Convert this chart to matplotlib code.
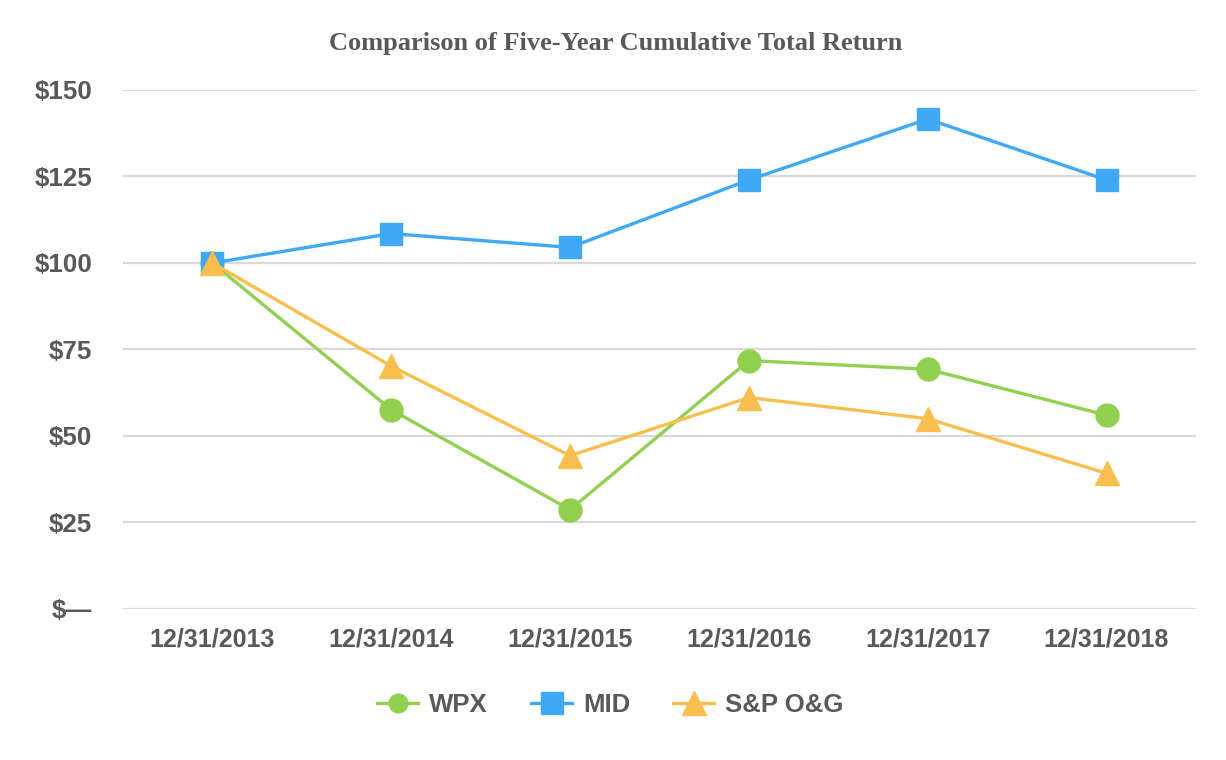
import matplotlib
matplotlib.use("Agg")
import matplotlib.pyplot as plt
from matplotlib.ticker import FixedLocator, FixedFormatter

categories = ["12/31/2013", "12/31/2014", "12/31/2015", "12/31/2016", "12/31/2017", "12/31/2018"]
wpx = [100, 57.6, 28.7, 71.8, 69.3, 56.0]
mid = [100, 108.5, 104.5, 124.0, 141.6, 124.0]
spog = [100, 70.2, 44.3, 61.1, 55.0, 39.2]
ytick_vals = [0, 25, 50, 75, 100, 125, 150]
ytick_labels = ["$\u2014", "$25", "$50", "$75", "$100", "$125", "$150"]

GREEN = "#92D050"
BLUE = "#3FA9F5"
ORANGE = "#F8BF4F"
TEXT = "#595959"

fig = plt.figure(figsize=(12.26, 7.6), dpi=100)
ax = fig.add_axes([0.1003, 0.1987, 0.8752, 0.6829])

x = list(range(len(categories)))
ax.plot(x, wpx, color=GREEN, lw=2.4, marker="o", ms=16.5, label="WPX", zorder=3)
ax.plot(x, mid, color=BLUE, lw=2.4, marker="s", ms=16, label="MID", zorder=3)
ax.plot(x, spog, color=ORANGE, lw=2.4, marker="^", ms=17.5, label="S&P O&G", zorder=4)

ax.set_xlim(-0.5, len(categories) - 0.5)
ax.set_ylim(0, 150)
ax.yaxis.set_major_locator(FixedLocator(ytick_vals))
ax.yaxis.set_major_formatter(FixedFormatter(ytick_labels))
ax.set_xticks(x)
ax.set_xticklabels(categories)
ax.grid(axis="y", color="#D9D9D9", lw=1.6)
ax.set_axisbelow(True)
for s in ax.spines.values():
    s.set_visible(False)
ax.tick_params(axis="both", length=0, colors=TEXT)
ax.tick_params(axis="y", pad=22)
ax.tick_params(axis="x", pad=13)
for lbl in ax.get_yticklabels():
    lbl.set_fontfamily("Liberation Sans")
    lbl.set_fontweight("bold")
    lbl.set_fontsize(18.7)
    lbl.set_color(TEXT)
for lbl in ax.get_xticklabels():
    lbl.set_fontfamily("Liberation Sans")
    lbl.set_fontweight("bold")
    lbl.set_fontsize(18)
    lbl.set_color(TEXT)

fig.text(0.502, 0.943, "Comparison of Five-Year Cumulative Total Return",
         ha="center", va="center", fontfamily="Liberation Serif",
         fontweight="bold", fontsize=19, color=TEXT)

leg = fig.legend(loc="center", bbox_to_anchor=(0.498, 0.072), ncol=3, frameon=False,
                 handlelength=1.6, columnspacing=1.67, handletextpad=0.43,
                 prop={"family": "Liberation Sans", "weight": "bold", "size": 18.5})
for t in leg.get_texts():
    t.set_color(TEXT)
for h, ms in zip(leg.legend_handles, [13.5, 16.5, 17]):
    h.set_markersize(ms)

fig.savefig("out.png", dpi=100)
